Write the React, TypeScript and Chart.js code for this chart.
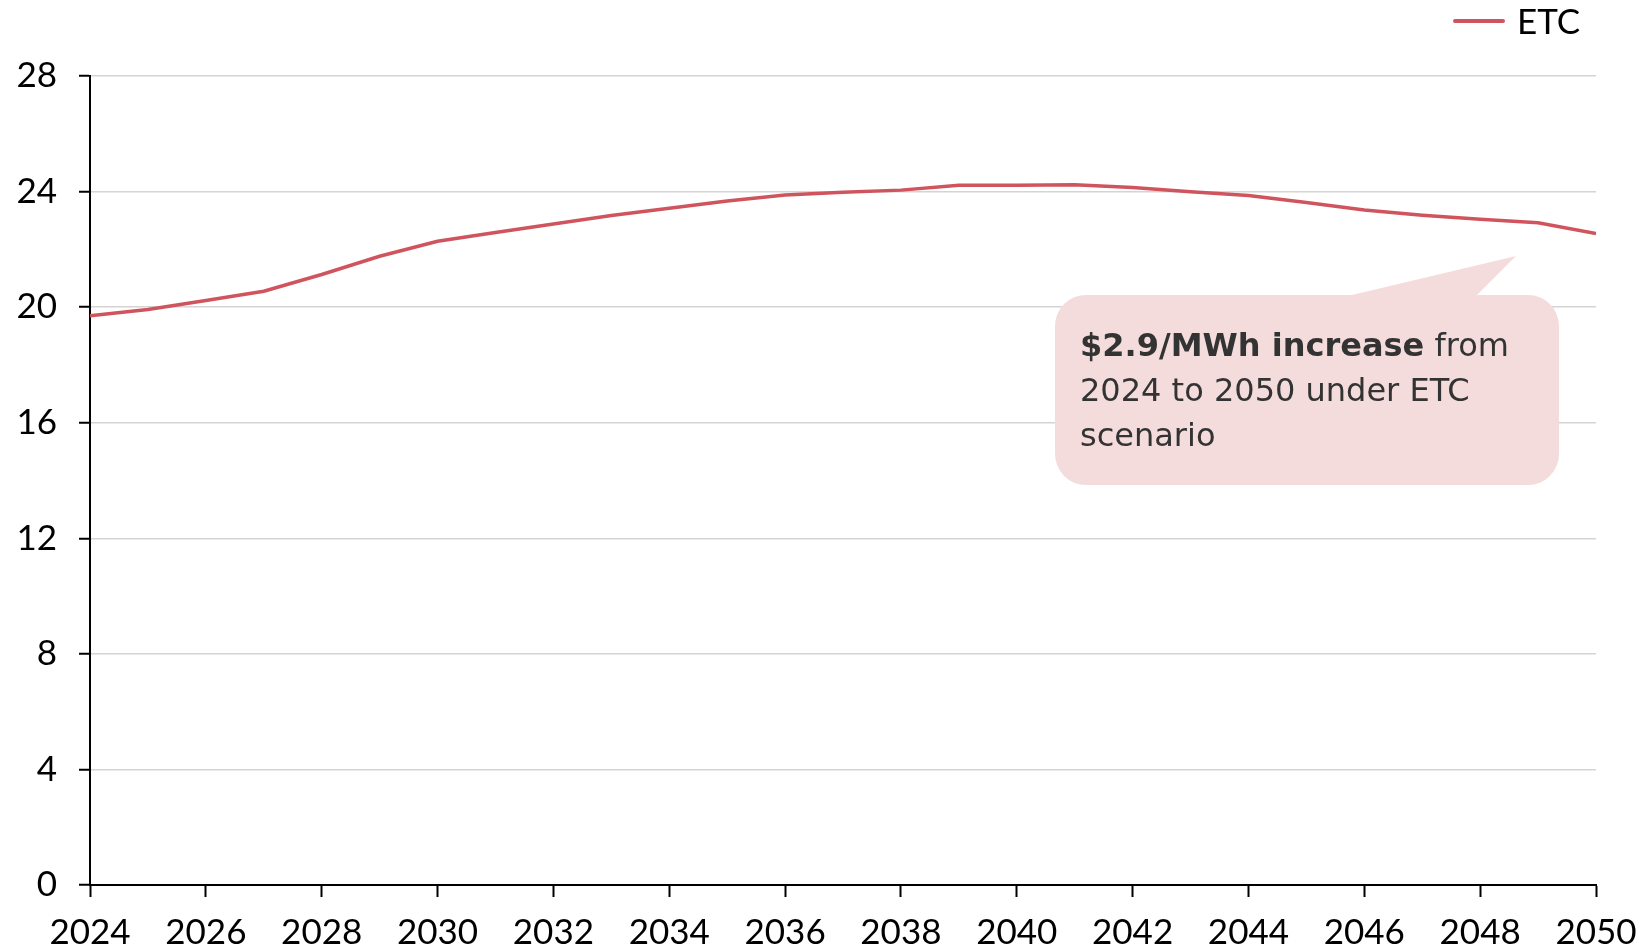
import React, { useEffect, useRef } from "react";
import { Chart, registerables } from "chart.js";

Chart.register(...registerables);

const years: number[] = [2024, 2025, 2026, 2027, 2028, 2029, 2030, 2031, 2032, 2033, 2034, 2035, 2036, 2037, 2038, 2039, 2040, 2041, 2042, 2043, 2044, 2045, 2046, 2047, 2048, 2049, 2050];
const etcValues: number[] = [19.7, 19.92, 20.23, 20.55, 21.13, 21.76, 22.28, 22.58, 22.88, 23.17, 23.42, 23.67, 23.88, 23.98, 24.05, 24.22, 24.22, 24.24, 24.14, 23.99, 23.86, 23.62, 23.36, 23.18, 23.04, 22.92, 22.55];
const seriesLabel = "ETC";
const yTicks: number[] = [0, 4, 8, 12, 16, 20, 24, 28];
const calloutBold = "$2.9/MWh increase";
const calloutLines: string[] = [" from", "2024 to 2050 under ETC", "scenario"];

const LINE_COLOR = "#d0545e";
const FONT = "Lato, 'Open Sans', sans-serif";
const CALLOUT_FONT = "'DejaVu Sans', sans-serif";

const overlayPlugin = {
  id: "overlay",
  afterDraw(chart: any) {
    const ctx = chart.ctx as CanvasRenderingContext2D;
    ctx.save();
    // Legend
    ctx.strokeStyle = LINE_COLOR;
    ctx.lineWidth = 4;
    ctx.lineCap = "round";
    ctx.beginPath();
    ctx.moveTo(1455, 21);
    ctx.lineTo(1503, 21);
    ctx.stroke();
    ctx.fillStyle = "#000";
    ctx.font = `400 35px ${FONT}`;
    ctx.textBaseline = "middle";
    ctx.textAlign = "left";
    ctx.fillText(seriesLabel, 1517, 23);

    // Callout
    const bx = 1055, by = 295, bw = 504, bh = 190, r = 31;
    ctx.fillStyle = "#f4dcdd";
    ctx.beginPath();
    ctx.moveTo(bx + r, by);
    ctx.lineTo(1352, by);
    ctx.lineTo(1516, 256);
    ctx.lineTo(1477, by);
    ctx.lineTo(bx + bw - r, by);
    ctx.arcTo(bx + bw, by, bx + bw, by + r, r);
    ctx.lineTo(bx + bw, by + bh - r);
    ctx.arcTo(bx + bw, by + bh, bx + bw - r, by + bh, r);
    ctx.lineTo(bx + r, by + bh);
    ctx.arcTo(bx, by + bh, bx, by + bh - r, r);
    ctx.lineTo(bx, by + r);
    ctx.arcTo(bx, by, bx + r, by, r);
    ctx.closePath();
    ctx.fill();

    ctx.fillStyle = "#333333";
    ctx.textBaseline = "alphabetic";
    const tx = 1080;
    ctx.font = `700 32px ${CALLOUT_FONT}`;
    ctx.fillText(calloutBold, tx, 356);
    const bwid = ctx.measureText(calloutBold).width;
    ctx.font = `400 32px ${CALLOUT_FONT}`;
    ctx.fillText(calloutLines[0], tx + bwid, 356);
    ctx.fillText(calloutLines[1], tx, 401);
    ctx.fillText(calloutLines[2], tx, 446);
    ctx.restore();
  },
};

export default function App() {
  const canvasRef = useRef<HTMLCanvasElement | null>(null);

  useEffect(() => {
    document.body.style.margin = "0";
    const canvas = canvasRef.current;
    if (!canvas) return;
    const chart = new Chart(canvas, {
      type: "line",
      data: {
        datasets: [
          {
            label: seriesLabel,
            data: years.map((y, i) => ({ x: y, y: etcValues[i] })),
            borderColor: LINE_COLOR,
            backgroundColor: LINE_COLOR,
            borderWidth: 3.5,
            pointRadius: 0,
            tension: 0,
          },
        ],
      },
      options: {
        responsive: false,
        animation: false,
        layout: { padding: { top: 76, right: 47, left: 0, bottom: 0 } },
        plugins: {
          legend: { display: false },
          tooltip: { enabled: false },
        },
        scales: {
          x: {
            type: "linear",
            min: years[0],
            max: years[years.length - 1],
            afterFit: (s: any) => {
              s.height = 64;
              s.paddingLeft = 0;
              s.paddingRight = 0;
            },
            ticks: {
              stepSize: 2,
              color: "#000",
              font: { family: FONT, size: 35 },
              padding: 15,
              maxRotation: 0,
              autoSkip: false,
              callback: (v: any) => String(v),
            },
            grid: {
              drawOnChartArea: false,
              drawTicks: true,
              tickLength: 12,
              tickColor: "#000",
              tickWidth: 2,
            },
            border: { display: true, color: "#000", width: 2 },
          },
          y: {
            min: yTicks[0],
            max: yTicks[yTicks.length - 1],
            afterFit: (s: any) => {
              s.width = 90;
              s.paddingTop = 0;
              s.paddingBottom = 0;
            },
            afterBuildTicks: (s: any) => {
              s.ticks = yTicks.map((v) => ({ value: v }));
            },
            ticks: {
              color: "#000",
              font: { family: FONT, size: 35 },
              padding: 22,
            },
            grid: {
              color: "#d4d4d4",
              lineWidth: 1.5,
              drawTicks: true,
              tickLength: 11,
              tickColor: "#000",
              tickWidth: 2,
            },
            border: { display: true, color: "#000", width: 2 },
          },
        },
      },
      plugins: [overlayPlugin],
    } as any);
    return () => chart.destroy();
  }, []);

  return (
    <div style={{ width: 1643, height: 949, background: "#fff" }}>
      <canvas ref={canvasRef} width={1643} height={949} style={{ display: "block" }} />
    </div>
  );
}
